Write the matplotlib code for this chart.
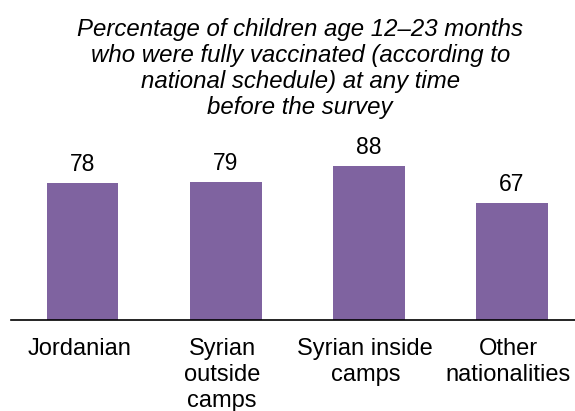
import matplotlib.pyplot as plt
import matplotlib.transforms as mtransforms

categories = ['Jordanian', 'Syrian\noutside\ncamps', 'Syrian inside\ncamps', 'Other\nnationalities']
values = [78, 79, 88, 67]

plt.rcParams['font.family'] = ['Liberation Sans', 'DejaVu Sans']

fig = plt.figure(figsize=(5.75, 4.11), dpi=100)
ax = fig.add_axes([11 / 575, 1 - 319.5 / 411, (575 - 11) / 575, 174.5 / 411])

x = range(len(categories))
ax.bar(x, values, width=0.5, color='#7F63A0')
for xi, v in zip(x, values):
    ax.text(xi, v + 4, str(v), ha='center', va='bottom', fontsize=16.5)

ax.set_xlim(-0.5, 3.44)
ax.set_ylim(0, 100)
ax.set_xticks(list(x))
ax.set_xticklabels(categories, fontsize=17, linespacing=1.24)
ax.tick_params(axis='x', length=0, pad=13)
# labels sit slightly left of bar centres in the original
shift = mtransforms.ScaledTranslation(-3.5 / 100, 0, fig.dpi_scale_trans)
for lbl in ax.get_xticklabels():
    lbl.set_transform(lbl.get_transform() + shift)
ax.set_yticks([])
for s in ['top', 'right', 'left']:
    ax.spines[s].set_visible(False)
ax.spines['bottom'].set_linewidth(1.2)

fig.text(0.522, 0.955,
         'Percentage of children age 12\u201323 months\n'
         'who were fully vaccinated (according to\n'
         'national schedule) at any time\n'
         'before the survey',
         ha='center', va='top', fontsize=17.3, style='italic', linespacing=1.16)

fig.savefig('out.png', dpi=100)
